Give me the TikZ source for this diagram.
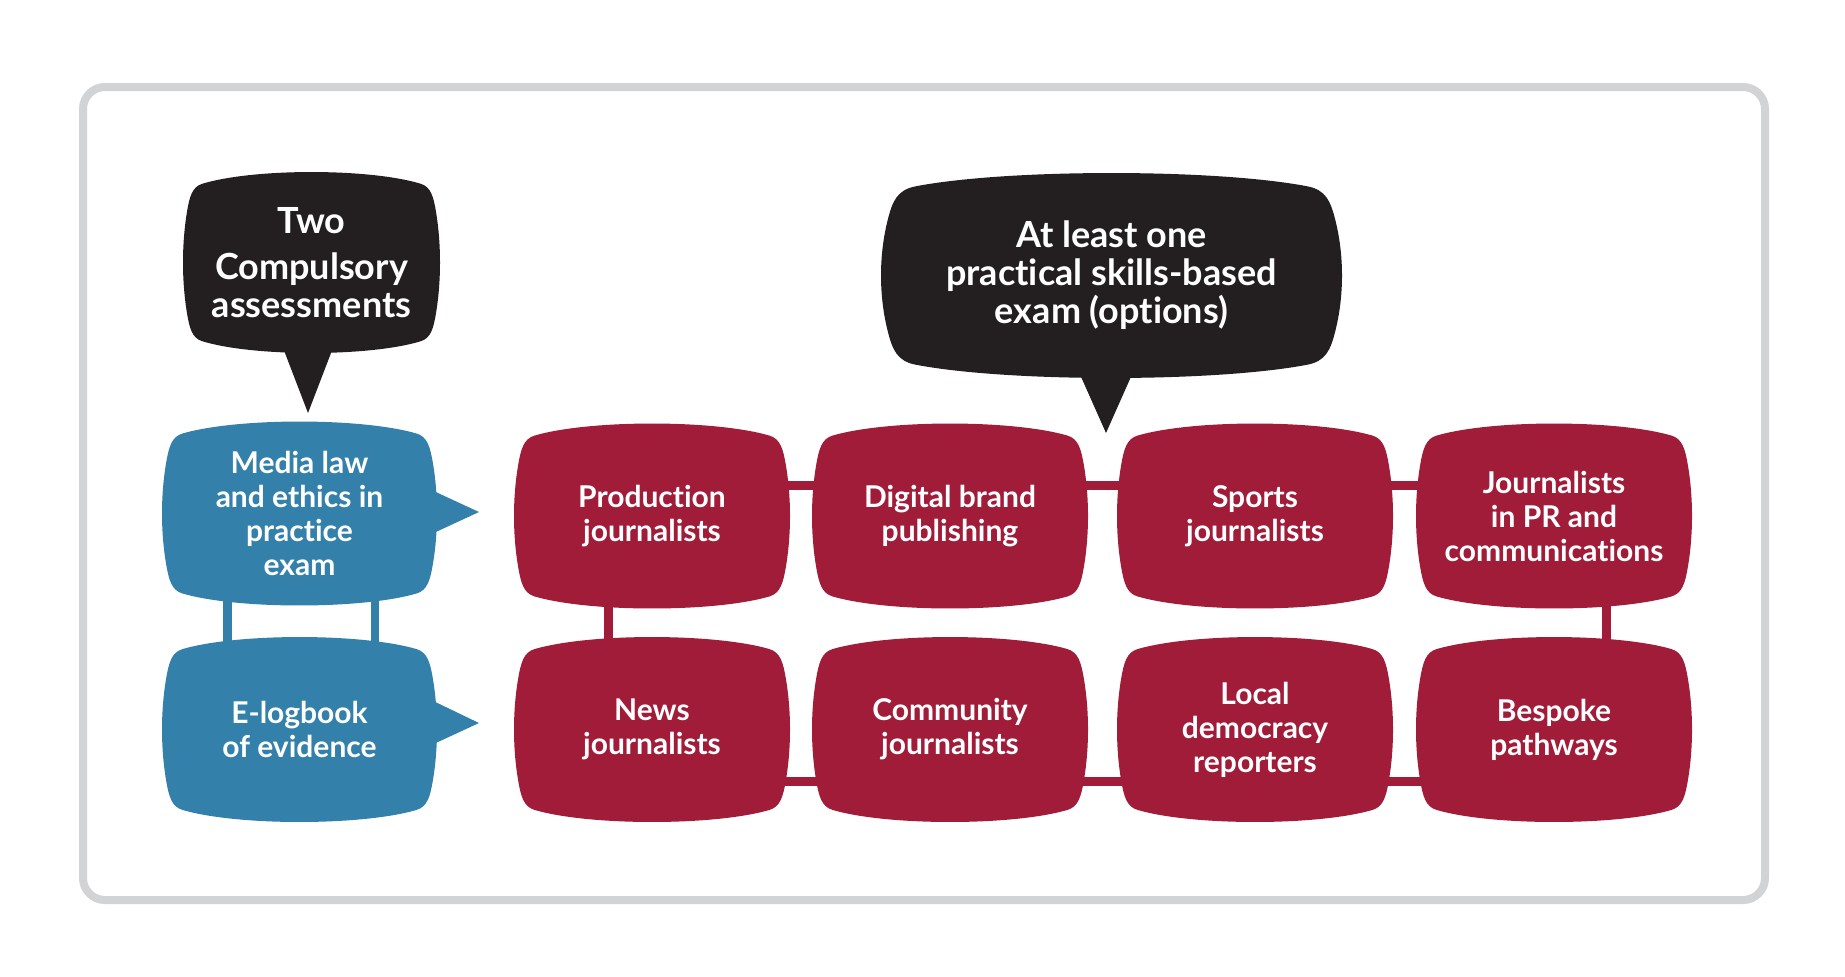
\documentclass[tikz,border=0pt]{standalone}
\usepackage{fontspec}
\setmainfont{Lato}[Ligatures=NoCommon]
\usetikzlibrary{backgrounds}
\definecolor{boxred}{HTML}{A01C38}
\definecolor{boxblue}{HTML}{3381AB}
\definecolor{boxblack}{HTML}{231F20}
\definecolor{framegray}{HTML}{D1D3D4}
% rounded tv-screen outline, unit half width / half height
\newcommand{\tvpath}{(-0.85,0.87) .. controls (-0.45,1.043) and (0.45,1.043) .. (0.85,0.87)
	.. controls (0.93,0.835) and (0.95,0.725) .. (0.97,0.55)
	.. controls (1.01,0.2) and (1.01,-0.2) .. (0.97,-0.55)
	.. controls (0.95,-0.725) and (0.93,-0.835) .. (0.85,-0.87)
	.. controls (0.45,-1.043) and (-0.45,-1.043) .. (-0.85,-0.87)
	.. controls (-0.93,-0.835) and (-0.95,-0.725) .. (-0.97,-0.55)
	.. controls (-1.01,-0.2) and (-1.01,0.2) .. (-0.97,0.55)
	.. controls (-0.95,0.725) and (-0.93,0.835) .. (-0.85,0.87) -- cycle}
\newcommand{\tvfill}[4]{%
	\begin{scope}[shift={(#1.center)}, x=#3, y=#4]
		\fill[#2] \tvpath;
	\end{scope}}
\begin{document}
\begin{tikzpicture}[x=0.5pt,y=-0.5pt,
		txt/.style={text=white,align=center,inner sep=0pt,
			font=\bfseries\fontsize{15}{17}\selectfont},
		bigtxt/.style={txt,font=\bfseries\fontsize{18}{19}\selectfont},
		redlink/.style={boxred,line width=4.5pt},
		bluelink/.style={boxblue,line width=4.25pt}]
	\useasboundingbox (0,0) rectangle (1845,976);
	\draw[framegray,line width=4pt,rounded corners=11pt] (83,87) rectangle (1765,900);

	\node[bigtxt] (two) at (311.5,262.5) {Two\\[4pt]Compulsory\\assessments};
	\node[bigtxt] (least) at (1111.5,275.5)
		{At least one\\practical skills-based\\exam (options)};

	\node[txt] (law) at (299.5,513.5) {Media law\\and ethics in\\practice\\exam};
	\node[txt] (elog) at (299.5,729.5) {E-logbook\\of evidence};

	\node[txt] (prod) at (652,516) {Production\\journalists};
	\node[txt] (dig) at (950,516) {Digital brand\\publishing};
	\node[txt] (sport) at (1255,516) {Sports\\journalists};
	\node[txt] (pr) at (1554,516) {Journalists\\in PR and\\communications};
	\node[txt] (news) at (652,729.5) {News\\journalists};
	\node[txt] (comm) at (950,729.5) {Community\\journalists};
	\node[txt] (local) at (1255,729.5) {Local\\democracy\\reporters};
	\node[txt] (besp) at (1554,729.5) {Bespoke\\pathways};

	\begin{pgfonlayer}{background}
		\fill[white] (0,0) rectangle (1845,976);
		% links
		\draw[bluelink] ([xshift=-36pt]law.center) -- ([xshift=-36pt]elog.center);
		\draw[bluelink] ([xshift=37.75pt]law.center) -- ([xshift=37.75pt]elog.center);
		\draw[redlink] ([yshift=15.5pt]prod.center) -- ([yshift=15.5pt]dig.center);
		\draw[redlink] ([yshift=15.5pt]dig.center) -- ([yshift=15.5pt]sport.center);
		\draw[redlink] ([yshift=15.5pt]sport.center) -- ([yshift=15.5pt]pr.center);
		\draw[redlink] ([yshift=-25.75pt]news.center) -- ([yshift=-25.75pt]comm.center);
		\draw[redlink] ([yshift=-25.75pt]comm.center) -- ([yshift=-25.75pt]local.center);
		\draw[redlink] ([yshift=-25.75pt]local.center) -- ([yshift=-25.75pt]besp.center);
		\draw[redlink] ([xshift=-22pt]prod.center) -- ([xshift=-22pt]news.center);
		\draw[redlink] ([xshift=26pt]pr.center) -- ([xshift=26pt]besp.center);
		% tails
		\fill[boxblack] (280,340) -- (336,340) -- (308,413) -- cycle;
		\fill[boxblack] (1078,370) -- (1134,370) -- (1106,433) -- cycle;
		\fill[boxblue] (425,487) -- (479,512) -- (425,537) -- cycle;
		\fill[boxblue] (425,697) -- (479,723) -- (425,748) -- cycle;
		% boxes
		\tvfill{two}{boxblack}{64.25pt}{45.25pt}
		\tvfill{least}{boxblack}{115.25pt}{51.25pt}
		\tvfill{law}{boxblue}{68.75pt}{46pt}
		\tvfill{elog}{boxblue}{68.75pt}{46.25pt}
		\foreach \n in {prod,dig,sport,pr,news,comm,local,besp}
			{\tvfill{\n}{boxred}{69pt}{46.25pt}}
	\end{pgfonlayer}
\end{tikzpicture}
\end{document}
